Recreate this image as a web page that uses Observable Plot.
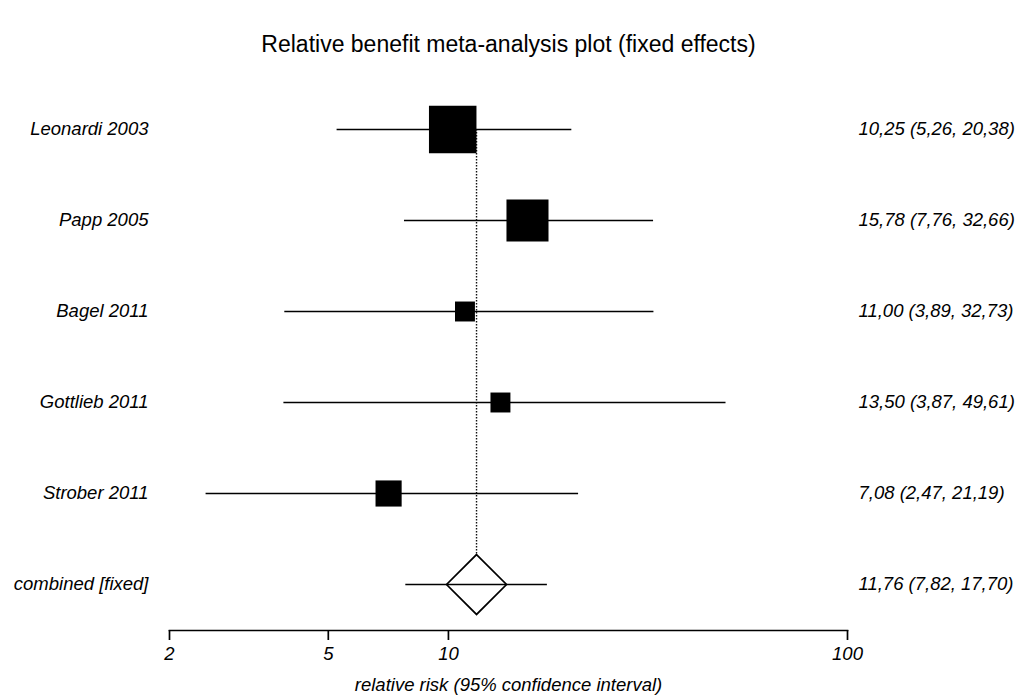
<!DOCTYPE html>
<html>
<head>
<meta charset="utf-8">
<script src="https://cdn.jsdelivr.net/npm/d3@7"></script>
<script src="https://cdn.jsdelivr.net/npm/@observablehq/plot@0.6"></script>
<style>
  html, body { margin: 0; padding: 0; background: #fff; }
  body { width: 1017px; height: 695px; overflow: hidden; font-family: "Liberation Sans", Arial, sans-serif; }
  #title { position: relative; height: 70px; width: 1017px; }
  #title span { position: absolute; left: 0; width: 1017px; top: 33px; text-align: center; font-size: 23px; line-height: 23px; color: #000; }
  #chart svg { display: block; }
</style>
</head>
<body>
<div id="title"><span>Relative benefit meta-analysis plot (fixed effects)</span></div>
<div id="chart"></div>
<script>
// ---- data ----
const studies = ["Leonardi 2003", "Papp 2005", "Bagel 2011", "Gottlieb 2011", "Strober 2011"];
const estimate = [10.25, 15.78, 11.00, 13.50, 7.08];
const lower = [5.26, 7.76, 3.89, 3.87, 2.47];
const upper = [20.38, 32.66, 32.73, 49.61, 21.19];
const relWeight = [1.00, 0.885, 0.42, 0.42, 0.55];   // relative box size (study weight)

const summaryLabel = "combined [fixed]";
const summaryEstimate = 11.76;
const summaryLower = 7.82;
const summaryUpper = 17.70;

const xTicks = [2, 5, 10, 100];
const xDomain = [2, 100];
const xLabel = "relative risk (95% confidence interval)";

// ---- tables built from the arrays ----
const fmt = v => v.toFixed(2).replace(".", ",");
const rows = studies.map((s, i) => ({
  label: s, est: estimate[i], lo: lower[i], hi: upper[i], w: relWeight[i]
}));
const summary = [{label: summaryLabel, est: summaryEstimate, lo: summaryLower, hi: summaryUpper}];
const allRows = rows.concat(summary);
allRows.forEach(d => d.txt = `${fmt(d.est)} (${fmt(d.lo)}, ${fmt(d.hi)})`);
const refLine = [{x: summaryEstimate, y1: studies[0], y2: summaryLabel}];

const textStyle = {fontSize: 18.5, fontStyle: "italic", fill: "#000"};

const chart = Plot.plot({
  width: 1017,
  height: 625,
  marginLeft: 169,
  marginRight: 170,
  marginTop: 20,
  marginBottom: 65,
  style: {fontFamily: "'Liberation Sans', Arial, sans-serif", background: "#fff", color: "#000"},
  x: {type: "log", domain: xDomain, range: [169, 847], ticks: xTicks, tickFormat: d => String(d)},
  y: {type: "point", domain: allRows.map(d => d.label), range: [58, 515], padding: 0},
  r: {type: "linear", domain: [0, 1], range: [0, 26.8]},
  marks: [
    Plot.ruleX(refLine, {x: "x", y1: "y1", y2: "y2", stroke: "#111", strokeWidth: 1.4, strokeDasharray: "1.5,1.5"}),
    Plot.ruleY(rows, {y: "label", x1: "lo", x2: "hi", stroke: "#000", strokeWidth: 1.7}),
    Plot.dot(rows, {x: "est", y: "label", r: "w", symbol: "square", fill: "#000", stroke: "none"}),
    Plot.dot(summary, {x: "est", y: "label", r: 27, symbol: "diamond2", fill: "#fff", stroke: "#000", strokeWidth: 1.7}),
    Plot.ruleY(summary, {y: "label", x1: "lo", x2: "hi", stroke: "#000", strokeWidth: 1.7}),
    Plot.text(allRows, {y: "label", text: "txt", frameAnchor: "right", dx: 11, textAnchor: "start", ...textStyle}),
    Plot.axisY({tickSize: 0, tickPadding: 21, label: null, ...textStyle}),
    Plot.frame({anchor: "bottom", stroke: "#000", strokeWidth: 1.7}),
    Plot.axisX({ticks: xTicks, tickFormat: d => String(d), tickSize: 10, tickPadding: 6, strokeWidth: 1.7, label: null, ...textStyle}),
    Plot.text([xLabel], {text: d => d, frameAnchor: "bottom", dy: 55, lineAnchor: "middle", ...textStyle})
  ]
});
document.getElementById("chart").appendChild(chart);
</script>
</body>
</html>
